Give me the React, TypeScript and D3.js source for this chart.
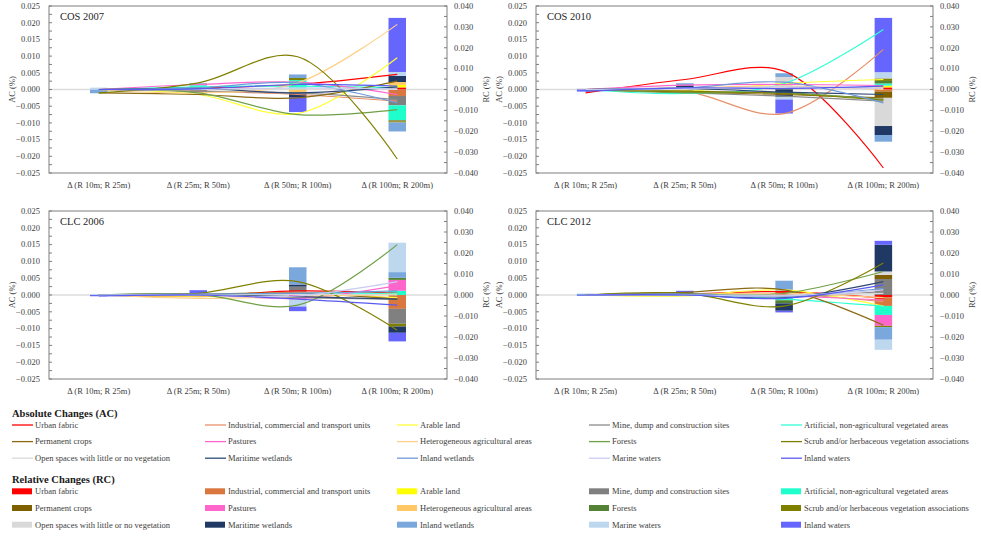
import React from "react";
import * as d3 from "d3";

const categories = ["Δ (R 10m; R 25m)", "Δ (R 25m; R 50m)", "Δ (R 50m; R 100m)", "Δ (R 100m; R 200m)"];

const landUse = [
  "Urban fabric",
  "Industrial, commercial and transport units",
  "Arable land",
  "Mine, dump and construction sites",
  "Artificial, non-agricultural vegetated areas",
  "Permanent crops",
  "Pastures",
  "Heterogeneous agricultural areas",
  "Forests",
  "Scrub and/or herbaceous vegetation associations",
  "Open spaces with little or no vegetation",
  "Maritime wetlands",
  "Inland wetlands",
  "Marine waters",
  "Inland waters",
];

const lineColors = ["#FF0000", "#E8906A", "#FFFF33", "#8C8C8C", "#33FFD6", "#8B6A14", "#FF66CC", "#FFD08A", "#6FA046", "#808000", "#DADADA", "#2F4A78", "#6E9BD8", "#C9CCF0", "#5A5AF0"];
const barColors = ["#FF0000", "#D9773F", "#FFFF00", "#808080", "#1FFFCC", "#7F6000", "#FF66CC", "#FFC766", "#548235", "#808000", "#D9D9D9", "#1F3864", "#7AA7DC", "#BDD7EE", "#6666FF"];

const acTicks = [-0.025, -0.02, -0.015, -0.01, -0.005, 0, 0.005, 0.01, 0.015, 0.02, 0.025];
const rcTicks = [-0.04, -0.03, -0.02, -0.01, 0, 0.01, 0.02, 0.03, 0.04];

// Absolute changes (lines): one row per land use, one value per distance step
const cos2007AC = [
  [0, 0.0005, 0.0015, 0.0045],
  [0, -0.0005, -0.0015, -0.0035],
  [0, -0.0015, -0.0072, 0.0095],
  [0, -0.0005, -0.001, -0.003],
  [0, 0.0008, 0.001, 0.0005],
  [-0.001, -0.0015, -0.0025, 0.0025],
  [0, 0.0015, 0.0022, -0.0015],
  [0, -0.001, 0.002, 0.0195],
  [0, -0.001, -0.0075, -0.006],
  [-0.001, 0.002, 0.0098, -0.0208],
  [0, 0, 0.0002, 0],
  [0, 0.0003, -0.001, 0.0008],
  [0, 0.0005, 0.002, -0.004],
  [0, 0, 0.0005, 0.0002],
  [0, 0.0002, 0.0015, 0.001],
];
const cos2007RC = [
  [0, 0, 0, 0.001],
  [0, 0, 0, -0.0031],
  [0, 0, 0, 0.0012],
  [0, -0.0015, 0, -0.0045],
  [0, 0.002, 0.0045, -0.0072],
  [0, 0, 0, -0.0005],
  [0, 0, 0, 0],
  [0, 0, -0.0017, 0.0014],
  [0, 0, 0, 0],
  [0, 0, 0.001, -0.0005],
  [0, -0.001, 0, 0],
  [0, 0, -0.0019, 0.0029],
  [-0.0018, 0.001, 0.0017, -0.0043],
  [0.0009, 0, 0, 0.0019],
  [0, 0, -0.0072, 0.0259],
];

const cos2010AC = [
  [-0.001, 0.003, 0.0055, -0.0235],
  [0, -0.0005, -0.0072, 0.012],
  [0, -0.0005, 0.0018, 0.003],
  [0, -0.001, -0.002, -0.0035],
  [0, -0.0012, 0.0018, 0.018],
  [0, -0.0008, -0.0015, -0.0025],
  [0, 0.0013, 0.0015, 0.0012],
  [0, 0.0005, 0.001, 0],
  [0, -0.001, -0.001, -0.003],
  [0, -0.0005, -0.0012, -0.0032],
  [0, 0, 0.0005, 0.0005],
  [0, 0.0003, -0.0008, -0.0015],
  [0, 0.0005, 0.0022, -0.004],
  [0, 0.0003, 0.0008, 0.0003],
  [-0.0005, 0.0005, 0.0003, 0.001],
];
const cos2010RC = [
  [0, 0, 0, 0.001],
  [0, 0, 0, -0.001],
  [0, 0, 0, 0.0009],
  [0, -0.0021, 0, 0],
  [0, 0, 0, 0.001],
  [0, 0, 0, -0.003],
  [0, 0, 0, 0],
  [0, 0, 0, 0],
  [0, 0, 0.0005, 0.0012],
  [0, 0, 0, 0.0012],
  [0.0005, 0, 0.0055, -0.0135],
  [0, 0.002, -0.0035, -0.0043],
  [0, 0.001, 0.0018, -0.0032],
  [0, 0, -0.0013, 0.003],
  [-0.001, 0, -0.0067, 0.026],
];

const clc2006AC = [
  [0, -0.0003, 0.0012, 0.0005],
  [0, -0.0005, 0.0008, -0.001],
  [0, -0.0003, 0.0003, -0.0008],
  [0, 0, -0.0008, -0.0012],
  [0, 0, 0.0005, 0.0005],
  [0, 0.0003, 0.0005, -0.0012],
  [0, 0.0002, -0.001, 0.0028],
  [0, -0.001, -0.0005, 0.0003],
  [0, 0.0002, -0.003, 0.015],
  [0, 0.0005, 0.004, -0.0105],
  [0, 0, 0.0002, 0],
  [0, 0, -0.0005, -0.0012],
  [0, 0.0003, 0.0005, 0.0012],
  [0, 0, -0.0003, 0.004],
  [-0.0003, 0, -0.0012, -0.003],
];
const clc2006RC = [
  [0, 0, 0.0016, 0],
  [0, 0, 0, -0.0066],
  [0, 0, 0, 0],
  [0, 0, 0.0024, -0.0071],
  [0, 0, 0, 0.002],
  [0, 0, 0, 0],
  [0, 0, -0.0017, 0.0052],
  [0, 0, 0, 0],
  [0, 0, 0, 0.001],
  [0, 0, 0, -0.0013],
  [0, 0, 0, 0],
  [0, 0, 0.001, -0.003],
  [0, 0.0008, 0.0082, 0.0027],
  [0.0005, 0, -0.0038, 0.014],
  [-0.0006, 0.0015, -0.0022, -0.0041],
];

const clc2012AC = [
  [0, 0.0003, 0.001, -0.001],
  [0, 0.0003, 0.0003, -0.002],
  [0, -0.0003, 0.0015, -0.0033],
  [0, 0.0005, -0.0005, 0.001],
  [0, 0, -0.0012, -0.0033],
  [0, 0.0008, 0.0015, -0.009],
  [0, 0.0002, -0.0003, -0.0015],
  [0, 0, 0.0005, -0.0008],
  [0, 0.0003, 0.0005, 0.007],
  [0, 0.0005, -0.0033, 0.0095],
  [0, 0, 0, 0.0005],
  [0, 0, -0.0008, 0.004],
  [0, 0.0003, -0.0005, 0.002],
  [0, 0, -0.0003, 0.0015],
  [0, 0, -0.001, 0.003],
];
const clc2012RC = [
  [0, 0, 0.0015, -0.0011],
  [0, 0, 0, -0.0041],
  [0, 0, 0, 0],
  [0, 0, 0, 0.0076],
  [0, 0, -0.0025, -0.0043],
  [0, 0, 0, 0.002],
  [0, 0, 0.0005, -0.0052],
  [0, 0, 0, 0],
  [0, 0, -0.0015, 0],
  [0, 0, 0, -0.0006],
  [0, 0, 0, 0.0016],
  [0, 0, -0.0035, 0.0127],
  [0.0006, 0.001, 0.0048, -0.006],
  [0, 0, 0, -0.0048],
  [-0.0004, 0.001, -0.0008, 0.0019],
];

const FONT = "'Liberation Serif', 'Times New Roman', serif";
const TXT = "#404040";

type PanelProps = {
  title: string;
  ac: number[][];
  rc: number[][];
  left: number;
  right: number;
  top: number;
  bottom: number;
};

function Panel({ title, ac, rc, left, right, top, bottom }: PanelProps) {
  const x = d3.scaleBand<string>().domain(categories).range([left, right]).padding(0);
  const yAC = d3.scaleLinear().domain([-0.025, 0.025]).range([bottom, top]);
  const yRC = d3.scaleLinear().domain([-0.04, 0.04]).range([bottom, top]);
  const cx = (j: number) => (x(categories[j]) as number) + x.bandwidth() / 2;
  const barW = 17.5;

  const keys = landUse.map((_, i) => String(i));
  const rows = categories.map((_, j) => {
    const o: Record<string, number> = {};
    rc.forEach((r, i) => (o[String(i)] = r[j]));
    return o;
  });
  const stack = d3.stack<Record<string, number>>().keys(keys).offset(d3.stackOffsetDiverging)(rows);

  const line = d3
    .line<number>()
    .x((_, j) => cx(j))
    .y((v) => yAC(v))
    .curve(d3.curveCatmullRom.alpha(0.5));

  const minorAC = d3.range(-0.025, 0.02501, 0.0025);
  const minorRC = d3.range(-0.04, 0.04001, 0.005);
  const midY = (top + bottom) / 2;

  return (
    <g>
      {/* zero line */}
      <line x1={left} x2={right} y1={yAC(0)} y2={yAC(0)} stroke="#DCDCDC" strokeWidth={1.5} />
      {/* bars */}
      {stack.map((s, i) =>
        s.map((d, j) => {
          const v = d[1] - d[0];
          if (Math.abs(v) < 1e-9) return null;
          const y0 = yRC(Math.max(d[0], d[1]));
          const y1 = yRC(Math.min(d[0], d[1]));
          return (
            <rect
              key={`b${i}-${j}`}
              x={cx(j) - barW / 2}
              y={y0}
              width={barW}
              height={Math.max(0.5, y1 - y0)}
              fill={barColors[i]}
            />
          );
        })
      )}
      {/* lines */}
      {ac.map((vals, i) => (
        <path key={`l${i}`} d={line(vals) || ""} fill="none" stroke={lineColors[i]} strokeWidth={1.2} />
      ))}
      {/* frame */}
      <rect x={left} y={top} width={right - left} height={bottom - top} fill="none" stroke="#7F7F7F" strokeWidth={1} />
      {/* left ticks */}
      {minorAC.map((t, k) => (
        <line key={`la${k}`} x1={left} x2={left + 3} y1={yAC(t)} y2={yAC(t)} stroke="#7F7F7F" />
      ))}
      {acTicks.map((t) => (
        <text key={`at${t}`} x={left - 9} y={yAC(t)} dy="0.33em" textAnchor="end" fontSize={8.5} fill={TXT} fontFamily={FONT}>
          {d3.format(".3f")(t)}
        </text>
      ))}
      {/* right ticks */}
      {minorRC.map((t, k) => (
        <line key={`lr${k}`} x1={right - 3} x2={right} y1={yRC(t)} y2={yRC(t)} stroke="#7F7F7F" />
      ))}
      {rcTicks.map((t) => (
        <text key={`rt${t}`} x={right + 7} y={yRC(t)} dy="0.33em" textAnchor="start" fontSize={8.5} fill={TXT} fontFamily={FONT}>
          {d3.format(".3f")(t)}
        </text>
      ))}
      {/* category labels */}
      {categories.map((c, j) => (
        <text key={c} x={cx(j)} y={bottom + 12} dy="0.33em" textAnchor="middle" fontSize={8.5} fill={TXT} fontFamily={FONT}>
          {c}
        </text>
      ))}
      {/* axis titles */}
      <text transform={`translate(${left - 37},${midY}) rotate(-90)`} textAnchor="middle" dy="0.33em" fontSize={8.5} fill={TXT} fontFamily={FONT}>
        AC (%)
      </text>
      <text transform={`translate(${right + 39},${midY}) rotate(-90)`} textAnchor="middle" dy="0.33em" fontSize={8.5} fill={TXT} fontFamily={FONT}>
        RC (%)
      </text>
      <text x={left + 11} y={top + 11} dy="0.33em" fontSize={10.5} fill="#262626" fontFamily={FONT}>
        {title}
      </text>
    </g>
  );
}

const legendCols = [12, 205, 397, 589, 781];

function Legend() {
  const items = landUse.map((name, i) => ({ name, i, col: i % 5, row: Math.floor(i / 5) }));
  return (
    <g fontFamily={FONT}>
      <text x={12} y={414} dy="0.33em" fontSize={10.5} fontWeight="bold" fill="#1a1a1a">
        Absolute Changes (AC)
      </text>
      {items.map((it) => {
        const y = 425 + it.row * 16.6;
        const x0 = legendCols[it.col];
        return (
          <g key={`al${it.i}`}>
            <line x1={x0} x2={x0 + 21} y1={y} y2={y} stroke={lineColors[it.i]} strokeWidth={1.3} />
            <text x={x0 + 23} y={y} dy="0.33em" fontSize={8.5} fill={TXT}>
              {it.name}
            </text>
          </g>
        );
      })}
      <text x={12} y={480} dy="0.33em" fontSize={10.5} fontWeight="bold" fill="#1a1a1a">
        Relative Changes (RC)
      </text>
      {items.map((it) => {
        const y = 491.3 + it.row * 16.7;
        const x0 = legendCols[it.col];
        return (
          <g key={`rl${it.i}`}>
            <rect x={x0} y={y - 3} width={20} height={6} fill={barColors[it.i]} />
            <text x={x0 + 23} y={y} dy="0.33em" fontSize={8.5} fill={TXT}>
              {it.name}
            </text>
          </g>
        );
      })}
    </g>
  );
}

export default function App() {
  return (
    <div style={{ position: "absolute", left: 0, top: 0 }}>
      <svg width={981} height={536} style={{ display: "block", background: "#fff" }}>
        <Panel title="COS 2007" ac={cos2007AC} rc={cos2007RC} left={49} right={447} top={6} bottom={173} />
        <Panel title="COS 2010" ac={cos2010AC} rc={cos2010RC} left={536} right={933} top={6} bottom={173} />
        <Panel title="CLC 2006" ac={clc2006AC} rc={clc2006RC} left={49} right={447} top={211} bottom={379} />
        <Panel title="CLC 2012" ac={clc2012AC} rc={clc2012RC} left={536} right={933} top={211} bottom={379} />
        <Legend />
      </svg>
    </div>
  );
}
